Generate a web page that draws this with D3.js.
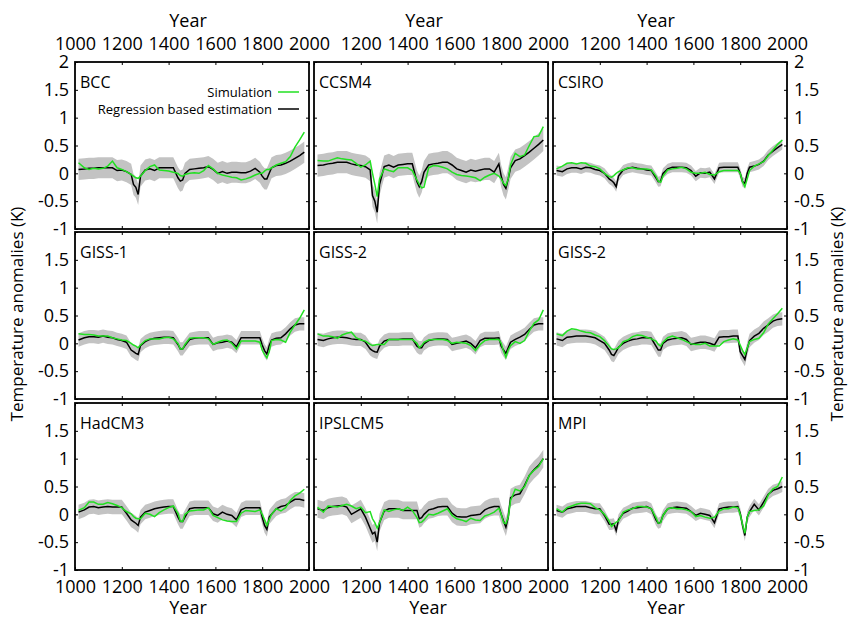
<!DOCTYPE html>
<html>
<head>
<meta charset="utf-8">
<script src="https://cdn.jsdelivr.net/npm/d3@7"></script>
<style>
  body { margin: 0; background: #fff; }
  svg { font-family: "Open Sans", sans-serif; }
</style>
</head>
<body>
<svg width="849" height="618"></svg>
<script>
// shared time axis (years) for every panel
const years = [1015,1040,1060,1080,1100,1120,1140,1160,1180,1200,
  1220,1240,1250,1260,1270,1280,1300,1320,1340,1360,
  1380,1400,1420,1440,1450,1460,1470,1490,1510,1530,
  1550,1570,1590,1610,1630,1650,1670,1690,1710,1730,
  1750,1770,1790,1800,1810,1820,1830,1840,1860,1880,
  1900,1920,1940,1960,1980];

const models = ['BCC', 'CCSM4', 'CSIRO', 'GISS-1', 'GISS-2', 'GISS-2', 'HadCM3', 'IPSLCM5', 'MPI'];

// regression based estimation (black) and simulation (green), K
const regBCC = [0.07,0.08,0.09,0.09,0.1,0.1,0.1,0.1,0.05,0.06,
  0.03,-0.02,-0.2,-0.25,-0.38,-0.05,0.06,0.08,0.05,0.1,
  0.1,0.1,0.1,-0.08,-0.14,-0.12,0.0,0.07,0.08,0.09,
  0.1,0.12,0.07,0.0,0.03,0.0,0.02,0.02,0.01,0.01,
  0.04,0.09,0.02,-0.05,-0.1,-0.1,0.0,0.1,0.14,0.15,
  0.18,0.22,0.27,0.32,0.38];
const simBCC = [0.19,0.1,0.07,0.09,0.08,0.09,0.13,0.22,0.1,0.07,
  0.03,-0.02,-0.05,-0.08,-0.09,-0.05,0.05,0.12,0.15,0.06,
  0.05,0.04,0.02,0.0,-0.04,-0.05,-0.02,0.0,0.01,0.0,
  0.05,0.14,0.08,0.0,-0.03,-0.05,-0.07,-0.08,-0.12,-0.1,
  -0.07,-0.03,0.0,0.0,0.04,0.07,0.07,0.1,0.15,0.18,
  0.21,0.3,0.47,0.6,0.74];

const regCCSM4 = [0.14,0.15,0.17,0.18,0.2,0.2,0.2,0.17,0.15,0.14,
  0.12,0.06,-0.4,-0.5,-0.7,-0.2,0.12,0.15,0.11,0.15,
  0.16,0.17,0.17,-0.15,-0.24,-0.15,0.02,0.15,0.17,0.18,
  0.2,0.2,0.15,0.08,0.05,0.02,0.06,0.04,0.06,0.08,
  0.08,0.02,0.17,-0.05,-0.2,-0.27,-0.1,0.1,0.23,0.26,
  0.32,0.38,0.45,0.52,0.6];
const simCCSM4 = [0.23,0.22,0.22,0.25,0.28,0.26,0.25,0.24,0.18,0.11,
  0.15,0.22,0.0,-0.2,-0.42,-0.1,0.08,0.05,0.03,0.1,
  0.1,0.1,0.05,-0.12,-0.2,-0.26,-0.25,0.1,0.14,0.13,
  0.11,0.08,0.02,-0.02,-0.04,-0.05,-0.06,-0.08,-0.13,-0.07,
  -0.03,0.0,-0.05,-0.1,-0.18,-0.22,-0.1,0.15,0.36,0.3,
  0.33,0.5,0.66,0.67,0.84];

const regCSIRO = [0.05,0.03,0.08,0.1,0.1,0.08,0.11,0.1,0.07,0.05,
  0.0,-0.1,-0.13,-0.17,-0.24,-0.05,0.06,0.09,0.11,0.09,
  0.08,0.06,0.05,-0.08,-0.15,-0.14,0.0,0.08,0.11,0.11,
  0.11,0.1,0.05,-0.05,0.01,0.0,0.02,-0.1,0.1,0.11,
  0.11,0.11,0.11,0.0,-0.15,-0.18,0.0,0.11,0.13,0.16,
  0.22,0.33,0.4,0.46,0.52];
const simCSIRO = [0.08,0.13,0.18,0.19,0.17,0.19,0.18,0.13,0.12,0.08,
  0.0,-0.06,-0.07,-0.04,0.0,0.03,0.06,0.1,0.1,0.08,
  0.08,0.08,0.06,-0.05,-0.14,-0.16,-0.05,0.06,0.08,0.09,
  0.11,0.08,0.02,0.0,0.0,0.02,-0.02,-0.03,0.03,0.05,
  0.05,0.05,0.05,0.0,-0.15,-0.24,-0.1,0.05,0.13,0.17,
  0.21,0.32,0.42,0.52,0.6];

const regGISS1 = [0.06,0.1,0.12,0.12,0.11,0.13,0.11,0.1,0.07,0.05,
  0.02,-0.12,-0.15,-0.18,-0.2,-0.04,0.03,0.07,0.09,0.1,
  0.11,0.11,0.1,-0.02,-0.1,-0.1,-0.04,0.07,0.09,0.1,
  0.1,0.1,-0.02,0.01,0.02,0.04,0.02,-0.06,0.1,0.1,
  0.1,0.1,0.1,-0.03,-0.13,-0.19,-0.04,0.06,0.09,0.1,
  0.17,0.26,0.33,0.35,0.35];
const simGISS1 = [0.17,0.16,0.16,0.15,0.13,0.13,0.13,0.1,0.08,0.06,
  0.05,0.0,-0.03,-0.05,-0.08,-0.03,0.05,0.08,0.08,0.08,
  0.1,0.11,0.08,0.0,-0.1,-0.1,-0.02,0.09,0.1,0.1,
  0.1,0.08,-0.02,0.02,0.05,0.06,0.0,-0.1,0.04,0.04,
  0.04,0.04,0.02,-0.12,-0.2,-0.26,-0.15,0.05,0.07,0.06,
  0.02,0.2,0.33,0.45,0.6];

const regGISS2a = [0.07,0.05,0.08,0.1,0.11,0.11,0.1,0.08,0.07,0.07,
  0.02,-0.1,-0.13,-0.15,-0.16,-0.05,0.04,0.07,0.07,0.07,
  0.08,0.08,0.08,-0.05,-0.08,-0.08,-0.01,0.05,0.07,0.08,
  0.08,0.07,-0.02,0.0,0.02,0.04,0.0,-0.08,0.05,0.09,
  0.09,0.09,0.1,-0.05,-0.12,-0.18,-0.08,0.02,0.07,0.11,
  0.16,0.25,0.33,0.35,0.35];
const simGISS2a = [0.17,0.13,0.13,0.12,0.09,0.15,0.18,0.2,0.1,0.06,
  0.04,-0.02,-0.04,-0.03,-0.02,-0.02,-0.02,0.07,0.07,0.07,
  0.07,0.07,0.07,0.0,-0.08,-0.04,0.02,0.06,0.07,0.07,
  0.07,0.05,0.0,0.02,0.01,0.0,-0.04,-0.13,-0.02,0.05,
  0.07,0.07,0.07,0.0,-0.14,-0.25,-0.12,-0.04,0.03,0.0,
  0.05,0.22,0.36,0.42,0.6];

const regGISS2b = [0.08,0.05,0.11,0.12,0.13,0.13,0.13,0.12,0.1,0.05,
  0.0,-0.12,-0.2,-0.22,-0.15,-0.07,0.0,0.04,0.07,0.08,
  0.1,0.1,0.09,-0.05,-0.12,-0.12,0.0,0.06,0.08,0.09,
  0.1,0.07,-0.02,0.0,0.02,0.02,0.0,-0.03,0.11,0.12,
  0.12,0.13,0.13,-0.15,-0.22,-0.29,-0.1,0.05,0.13,0.18,
  0.27,0.33,0.4,0.43,0.44];
const simGISS2b = [0.17,0.14,0.22,0.26,0.25,0.22,0.2,0.19,0.15,0.12,
  0.05,-0.05,-0.1,-0.11,-0.1,-0.08,0.03,0.06,0.12,0.15,
  0.14,0.11,0.08,0.04,-0.02,-0.05,0.02,0.1,0.13,0.1,
  0.07,0.03,-0.01,-0.02,-0.02,0.0,-0.05,-0.05,-0.05,0.03,
  0.06,0.08,0.06,-0.03,-0.13,-0.2,-0.08,0.03,0.07,0.09,
  0.19,0.35,0.44,0.53,0.63];

const regHadCM3 = [0.04,0.08,0.13,0.14,0.12,0.13,0.14,0.13,0.13,0.13,
  0.02,-0.1,-0.13,-0.16,-0.2,-0.05,0.04,0.07,0.1,0.12,
  0.13,0.14,0.14,-0.05,-0.13,-0.13,-0.05,0.1,0.12,0.12,
  0.12,0.12,0.01,-0.02,0.04,0.0,-0.02,-0.1,0.08,0.12,
  0.12,0.12,0.12,-0.05,-0.2,-0.27,-0.05,0.0,0.1,0.14,
  0.16,0.22,0.27,0.27,0.25];
const simHadCM3 = [0.07,0.12,0.22,0.22,0.18,0.18,0.21,0.19,0.16,0.12,
  0.05,0.01,-0.04,-0.07,-0.08,-0.08,0.02,0.0,-0.04,0.03,
  0.08,0.12,0.15,0.02,-0.12,-0.13,0.0,0.06,0.07,0.08,
  0.08,0.12,-0.02,-0.06,-0.1,-0.12,-0.13,-0.13,0.02,0.07,
  0.06,0.05,0.08,0.0,-0.1,-0.2,-0.1,0.0,0.1,0.06,
  0.12,0.25,0.33,0.38,0.45];

const regIPSLCM5 = [0.1,0.07,0.12,0.14,0.15,0.16,0.13,0.0,0.05,0.1,
  -0.05,-0.25,-0.35,-0.32,-0.5,-0.15,0.06,0.1,0.1,0.1,
  0.07,0.07,0.07,0.07,-0.08,-0.06,0.0,0.08,0.1,0.13,
  0.14,0.14,0.02,-0.04,-0.05,-0.05,-0.02,-0.01,0.0,0.08,
  0.12,0.14,0.14,0.0,-0.12,-0.23,-0.05,0.3,0.35,0.37,
  0.52,0.7,0.8,0.88,1.0];
const simIPSLCM5 = [0.13,0.04,0.15,0.14,0.13,0.16,0.18,0.15,0.1,0.13,
  0.03,0.05,-0.08,-0.15,-0.25,-0.15,0.08,0.05,0.08,0.1,
  0.07,0.13,0.07,-0.06,-0.15,-0.14,-0.1,0.0,-0.01,0.02,
  0.06,0.1,-0.02,-0.08,-0.1,-0.13,-0.07,-0.1,-0.11,-0.03,
  0.0,0.04,0.11,0.0,-0.15,-0.17,-0.05,0.25,0.45,0.42,
  0.5,0.7,0.79,0.86,1.0];

const regMPI = [0.07,0.04,0.1,0.12,0.14,0.14,0.14,0.12,0.1,0.1,
  -0.02,-0.18,-0.18,-0.17,-0.29,-0.1,0.02,0.06,0.11,0.12,
  0.13,0.14,0.1,-0.1,-0.16,-0.14,-0.02,0.1,0.12,0.13,
  0.12,0.11,0.05,-0.02,0.02,0.0,-0.02,-0.15,0.1,0.12,
  0.13,0.13,0.14,0.02,-0.2,-0.38,-0.05,0.05,0.18,0.08,
  0.22,0.36,0.43,0.46,0.5];
const simMPI = [0.1,0.04,0.12,0.15,0.18,0.2,0.2,0.19,0.12,0.08,
  0.0,-0.12,-0.22,-0.18,-0.14,-0.12,0.04,0.08,0.1,0.14,
  0.14,0.13,0.1,-0.06,-0.16,-0.15,-0.02,0.1,0.12,0.1,
  0.1,0.08,0.05,-0.04,-0.02,-0.05,-0.07,-0.05,0.06,0.1,
  0.1,0.13,0.12,0.0,-0.18,-0.34,-0.05,0.05,0.07,0.08,
  0.15,0.35,0.46,0.5,0.67];

const regSeries = [regBCC, regCCSM4, regCSIRO, regGISS1, regGISS2a, regGISS2b, regHadCM3, regIPSLCM5, regMPI];
const simSeries = [simBCC, simCCSM4, simCSIRO, simGISS1, simGISS2a, simGISS2b, simHadCM3, simIPSLCM5, simMPI];
// half width of the grey uncertainty band around the estimation
const bandHalf = [0.19, 0.2, 0.09, 0.12, 0.12, 0.12, 0.13, 0.16, 0.1];

const xTicks = [1000, 1200, 1400, 1600, 1800, 2000];
const yTicks = [-1, -0.5, 0, 0.5, 1, 1.5, 2];

const svg = d3.select('svg');

const colX = [75, 314, 553];
const rowY = [62, 232, 403];
const pw = 234, ph = 167;
const green = '#22e022';

const x = d3.scaleLinear().domain([1000, 2000]).range([0, pw]);
const y = d3.scaleLinear().domain([-1, 2]).range([ph, 0]);

const band = d3.area()
  .x(d => x(d.year))
  .y0(d => y(d.reg - d.hw))
  .y1(d => y(d.reg + d.hw));
const regLine = d3.line().x(d => x(d.year)).y(d => y(d.reg));
const simLine = d3.line().x(d => x(d.year)).y(d => y(d.sim));

function styleAxis(g) {
  g.select('.domain').remove();
  g.selectAll('.tick line').attr('stroke', '#000').attr('stroke-width', 1);
  g.selectAll('text').attr('font-size', 18).attr('font-family', '"Open Sans", sans-serif').attr('fill', '#000');
}

models.forEach((name, i) => {
  const col = i % 3, row = Math.floor(i / 3);
  const data = years.map((yr, j) => ({year: yr, reg: regSeries[i][j], sim: simSeries[i][j], hw: bandHalf[i]}));
  const g = svg.append('g').attr('transform', `translate(${colX[col]},${rowY[row]})`);

  g.append('path').datum(data).attr('d', band).attr('fill', '#c3c3c3');
  g.append('path').datum(data).attr('d', regLine)
    .attr('fill', 'none').attr('stroke', '#000').attr('stroke-width', 1.5);
  g.append('path').datum(data).attr('d', simLine)
    .attr('fill', 'none').attr('stroke', green).attr('stroke-width', 1.5);

  const xfmt = d => (col > 0 && d === 1000) ? '' : d;
  g.append('g')
    .call(d3.axisTop(x).tickValues(xTicks).tickSize(-3).tickPadding(12)
      .tickFormat(row === 0 ? xfmt : ''))
    .call(styleAxis);
  g.append('g').attr('transform', `translate(0,${ph})`)
    .call(d3.axisBottom(x).tickValues(xTicks).tickSize(-3).tickPadding(10)
      .tickFormat(row === 2 ? xfmt : ''))
    .call(styleAxis);

  const yfmt = d => (row > 0 && d === 2) ? '' : String(d);
  g.append('g')
    .call(d3.axisLeft(y).tickValues(yTicks).tickSize(-3).tickPadding(6)
      .tickFormat(col === 0 ? yfmt : ''))
    .call(styleAxis);
  g.append('g').attr('transform', `translate(${pw},0)`)
    .call(d3.axisRight(y).tickValues(yTicks).tickSize(-3).tickPadding(7)
      .tickFormat(col === 2 ? yfmt : ''))
    .call(styleAxis);

  g.append('rect').attr('width', pw).attr('height', ph)
    .attr('fill', 'none').attr('stroke', '#000').attr('stroke-width', 1.8);

  g.append('text').attr('x', 5).attr('y', 26)
    .attr('font-size', 16).text(name);

  if (i === 0) {
    const leg = [
      {label: 'Simulation', color: green, yy: 30},
      {label: 'Regression based estimation', color: '#000', yy: 47}
    ];
    leg.forEach(l => {
      g.append('text').attr('x', 197).attr('y', l.yy + 4.5)
        .attr('text-anchor', 'end').attr('font-size', 13).text(l.label);
      g.append('line').attr('x1', 203).attr('x2', 224).attr('y1', l.yy).attr('y2', l.yy)
        .attr('stroke', l.color).attr('stroke-width', 1.5);
    });
  }
});

// axis titles
const topYear = [188, 424, 656];
const botYear = [188, 428, 666];
topYear.forEach(cx => svg.append('text').attr('x', cx).attr('y', 27)
  .attr('text-anchor', 'middle').attr('font-size', 18).text('Year'));
botYear.forEach(cx => svg.append('text').attr('x', cx).attr('y', 614)
  .attr('text-anchor', 'middle').attr('font-size', 18).text('Year'));

[23, 843].forEach(tx => svg.append('text')
  .attr('transform', `translate(${tx},314) rotate(-90)`)
  .attr('text-anchor', 'middle').attr('font-size', 17)
  .text('Temperature anomalies (K)'));
</script>
</body>
</html>
